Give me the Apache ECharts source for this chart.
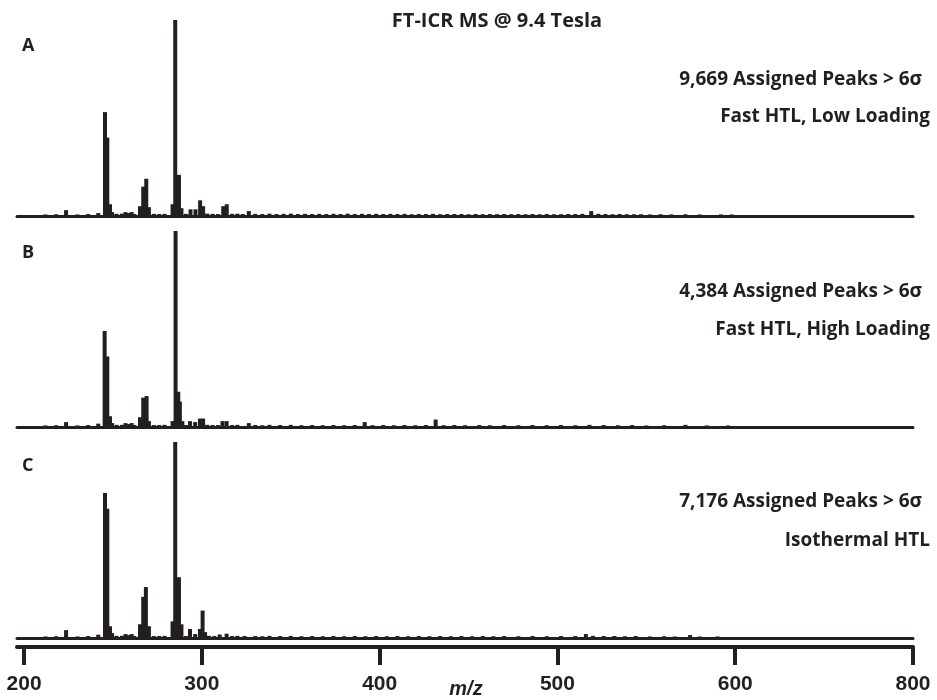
<!DOCTYPE html>
<html>
<head>
<meta charset="utf-8">
<script src="https://cdn.jsdelivr.net/npm/echarts@6/dist/echarts.min.js"></script>
<style>
html,body{margin:0;padding:0;background:#fff;}
#chart{width:937px;height:700px;}
</style>
</head>
<body>
<div id="chart"></div>
<script>
// ---- Data (m/z, relative intensity %) ----
const tickValues = [200, 300, 400, 500, 600, 700];
const tickLabels = ["200", "300", "400", "500", "600", "800"];

const peaksA = [[223.6,3],[241.7,1.5],[245.5,53],[246.8,40],[248.3,6],[249.5,2],
  [257,2],[258.5,1.5],[260.5,2],[265.2,5],[267,15],[268.7,19],[270.2,4.5],
  [283.5,6],[285,100],[287.1,21],[288.5,4],[293.6,3.4],[296.4,3.4],[299,8],[300.7,5],
  [312,5],[314,6],[326.4,2.5],[519,2.5]];
const noiseA = [[212,0.8],[218,0.9],[230,0.8],[236,1],[252,1.1],[255,1.2],[262,1],
  [273,1.1],[276,1],[279,1.1],[291,1.1],[303,1.2],[306,1.1],[309,1],[317,1.1],[320,1.2],
  [323,1],[330,1.1],[334,1],[338,1.2],[342,1],[346,1.1],[350,1.2],[354,1],[358,1.1],
  [362,1],[366,1.1],[370,1],[374,1.1],[378,1],[382,1.2],[386,1],[390,1.1],[394,1],
  [398,1.1],[402,1],[406,1.1],[410,1],[414,1.1],[418,0.9],[422,1],[426,1],[430,1.1],
  [434,0.9],[438,1],[442,1],[446,1],[450,0.9],[454,1],[458,0.9],[462,1],[466,0.9],
  [470,1],[474,0.9],[478,1],[482,0.9],[486,1],[490,0.9],[494,1],[498,0.9],[502,0.9],
  [506,1],[510,1],[514,1.1],[523,1.1],[527,1],[531,0.9],[535,1],[539,0.9],[543,0.9],
  [547,0.9],[552,0.8],[558,0.9],[564,0.8],[572,0.9],[580,0.8],[592,0.8],[598,0.8]];

const peaksB = [[223.6,2.5],[241.7,1.7],[245.3,49],[246.8,36],[248.3,5.5],[249.5,2],
  [257,2],[258.5,1.5],[260.5,2],[265.2,5],[267,15],[268.9,15.8],[270.2,3],
  [283.5,3],[285.2,100],[286.7,18],[287.6,13],[289,3],[293.3,3],[296.2,2.5],[298.9,4.3],[300.7,4.3],
  [311.6,3],[313.9,3],[326.4,2],[391.6,2.5],[431.5,3.8]];
const noiseB = [[212,0.8],[218,0.9],[230,0.8],[236,1],[252,1.1],[255,1.1],[262,1],
  [273,1],[276,1],[279,1.1],[291,1],[303,1.1],[306,1],[309,1],[317,1],[320,1.1],
  [330,1],[334,0.9],[338,1.1],[344,1],[350,1.1],[356,0.9],[362,1],[368,0.9],[374,1],
  [380,0.9],[386,1],[396,0.9],[402,1],[408,0.9],[414,1],[420,0.9],[426,1],[436,0.9],
  [442,1],[448,0.9],[456,1],[462,0.9],[470,1],[478,0.9],[486,1],[494,0.9],[502,1],
  [510,0.9],[518,1.1],[526,1],[534,0.9],[542,1],[550,0.8],[560,0.9],[572,1.1],[584,0.8],[596,0.8]];

const peaksC = [[223.6,4],[241.7,1.7],[245.5,74],[246.8,66],[248.3,6],[249.5,2.5],
  [257,2],[258.5,1.5],[260.5,2],[265.2,7],[267,21],[268.5,26],[270.2,6],
  [283.5,8.5],[285,100],[287.1,31],[288.5,7],[293.3,4.6],[296.2,2],[298.9,4.6],[300.4,14],[301.8,3],
  [310,1.8],[313.9,2.2],[516,2],[574.6,1.5]];
const noiseC = [[212,0.8],[218,0.9],[230,0.8],[236,1],[252,1.1],[255,1.1],[262,1],
  [273,1],[276,1],[279,1.1],[291,1],[304,1.1],[307,1],[317,1],[320,1.1],[324,1],
  [330,1],[334,0.9],[338,1.1],[344,1],[350,1.1],[356,0.9],[362,1],[368,0.9],[374,1],
  [380,0.9],[386,1],[392,0.9],[398,1],[404,0.9],[410,1],[416,0.9],[422,1],[428,0.9],
  [434,1],[440,0.9],[446,1],[452,0.9],[458,1],[464,0.9],[470,1],[478,0.9],[486,1],[494,0.9],
  [502,1],[510,1],[520,1.1],[526,1],[532,1],[538,0.9],[544,1],[552,0.8],[560,0.9],
  [566,0.8],[580,0.8],[590,0.8]];

const panelLetters = ["A", "B", "C"];
const panelLine1 = ["9,669 Assigned Peaks > 6\u03c3", "4,384 Assigned Peaks > 6\u03c3", "7,176 Assigned Peaks > 6\u03c3"];
const panelLine2 = ["Fast HTL, Low Loading", "Fast HTL, High Loading", "Isothermal HTL"];
const titleText = "FT-ICR MS @ 9.4 Tesla";
const xAxisName = "m/z";

// ---- Build chart ----
const INK = '#231f20';
const chart = echarts.init(document.getElementById('chart'), null, {renderer: 'canvas'});
const gridTops = [20, 231, 442];
const gridH = 196;
const grids = gridTops.map(t => ({left: 17, right: 24, top: t, height: gridH}));

const xMin = 196, xMax = 700;
const xAxes = [];
const yAxes = [];
for (let i = 0; i < 3; i++) {
  xAxes.push({
    type: 'value', gridIndex: i, min: xMin, max: xMax, position: 'bottom',
    axisLine: {show: true, onZero: false, lineStyle: {color: INK, width: 3}},
    axisTick: {show: false}, axisLabel: {show: false}, splitLine: {show: false}
  });
  yAxes.push({
    type: 'value', gridIndex: i, min: 0, max: 100, show: false
  });
}
// bottom m/z axis
xAxes.push({
  type: 'value', gridIndex: 2, min: xMin, max: xMax, offset: 9, position: 'bottom',
  axisLine: {show: true, onZero: false, lineStyle: {color: INK, width: 4}},
  axisTick: {show: true, length: 18, customValues: tickValues, lineStyle: {color: INK, width: 4}},
  axisLabel: {
    show: true, customValues: tickValues, margin: 27,
    fontFamily: 'Liberation Sans', fontWeight: 'bold', fontSize: 21, color: INK,
    formatter: v => tickLabels[tickValues.indexOf(v)] ?? ''
  },
  splitLine: {show: false}
});

const allData = [peaksA.concat(noiseA), peaksB.concat(noiseB), peaksC.concat(noiseC)];
const series = allData.map((d, i) => ({
  type: 'bar', xAxisIndex: i, yAxisIndex: i, data: d, barWidth: 4,
  itemStyle: {color: INK}, silent: true, animation: false
}));

const txt = (x, y, text, size, align, extra) => ({
  type: 'text', x: x, y: y, silent: true,
  style: Object.assign({text: text, fill: INK, fontFamily: 'Open Sans', fontWeight: 'bold',
    fontSize: size, align: align, verticalAlign: 'middle'}, extra || {})
});
const graphics = [txt(497, 21, titleText, 20, 'center')];
const letterY = [46, 253, 466];
const l1Y = [80, 292, 502];
const l2Y = [117, 330, 541];
for (let i = 0; i < 3; i++) {
  graphics.push(txt(22, letterY[i], panelLetters[i], 18, 'left'));
  graphics.push(txt(922, l1Y[i], panelLine1[i], 19, 'right'));
  graphics.push(txt(930, l2Y[i], panelLine2[i], 19, 'right'));
}
graphics.push(txt(466, 689, xAxisName, 20, 'center', {fontFamily: 'Liberation Sans', fontStyle: 'italic'}));

chart.setOption({
  animation: false,
  backgroundColor: '#ffffff',
  grid: grids,
  xAxis: xAxes,
  yAxis: yAxes,
  series: series,
  graphic: graphics
});
</script>
</body>
</html>
